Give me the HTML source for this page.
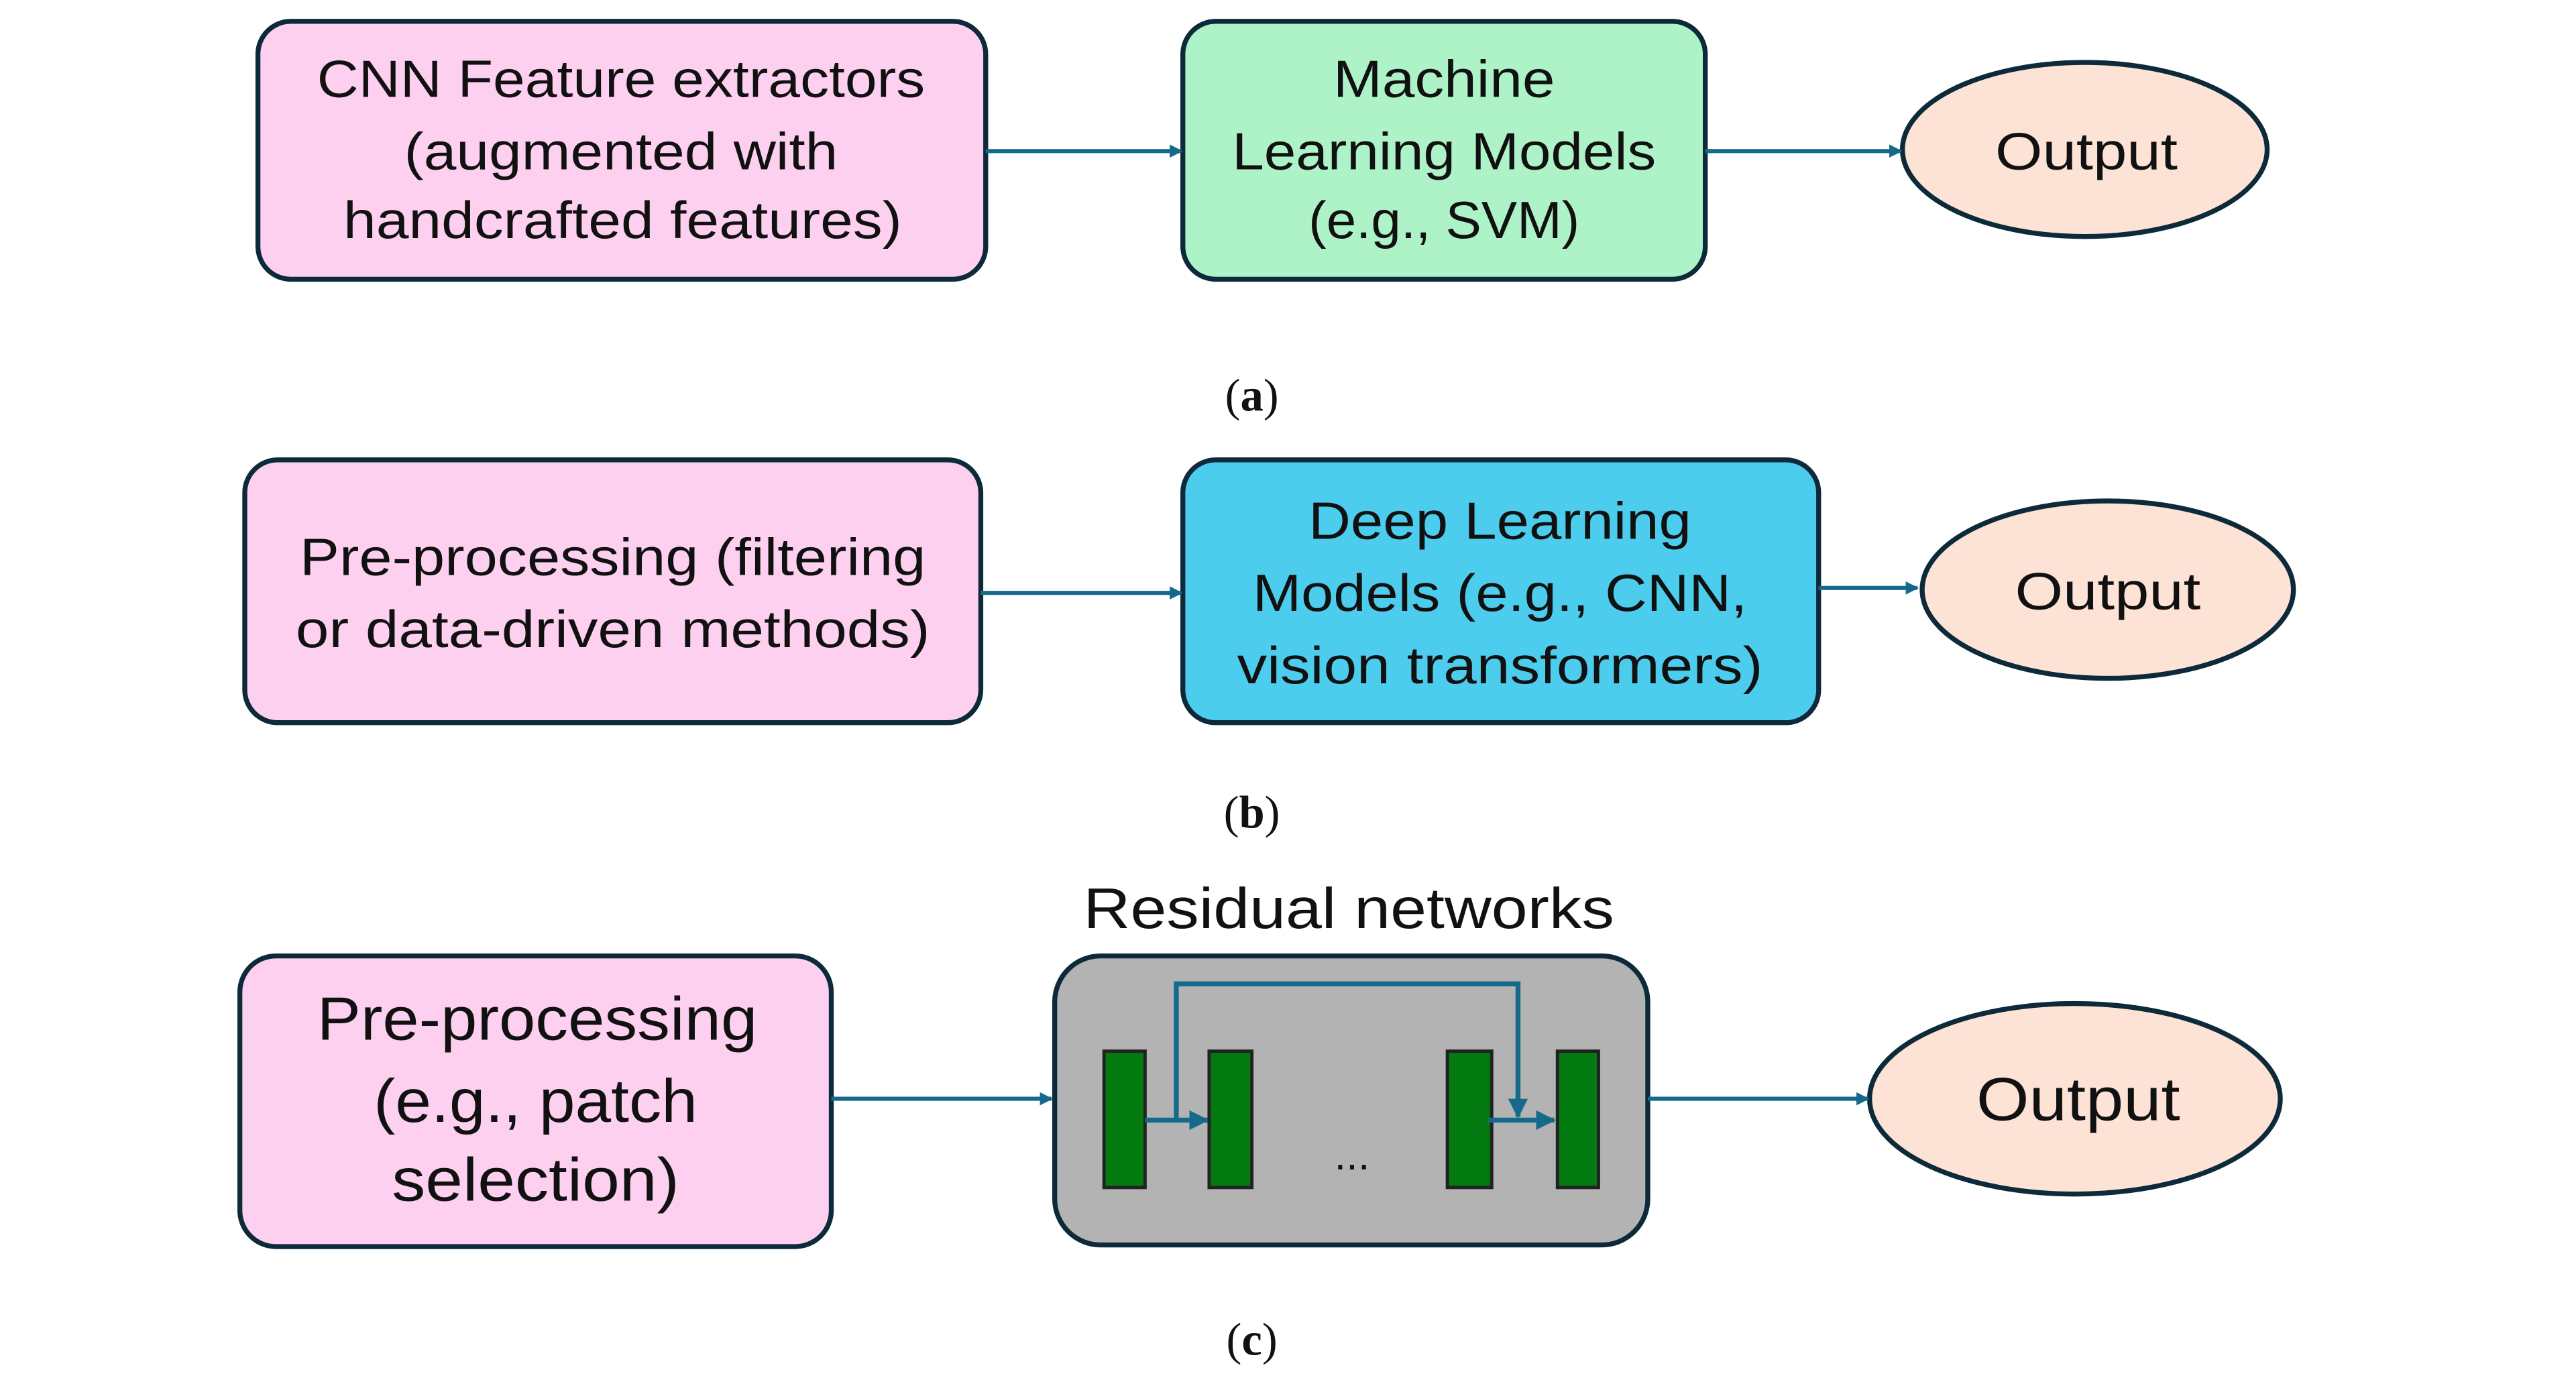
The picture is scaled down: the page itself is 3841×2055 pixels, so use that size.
<!DOCTYPE html>
<html><head><meta charset="utf-8"><style>
html,body{margin:0;padding:0;background:#fff}
svg{display:block}
.t{font-family:"Liberation Sans",sans-serif;fill:#111;text-anchor:middle}
.c{font-family:"Liberation Serif",serif;fill:#111;text-anchor:middle;font-size:28px}
</style></head><body>
<svg width="3841" height="2055" viewBox="0 0 1568 839" preserveAspectRatio="none" xmlns="http://www.w3.org/2000/svg">
<defs>
<marker id="a" markerWidth="8" markerHeight="8" refX="7" refY="4" orient="auto" markerUnits="userSpaceOnUse"><path d="M0,0 L8,4 L0,8 Z" fill="#156a8c"/></marker>
<marker id="b" markerWidth="12" markerHeight="12" refX="11" refY="6" orient="auto" markerUnits="userSpaceOnUse"><path d="M0,0 L12,6 L0,12 Z" fill="#156a8c"/></marker>
</defs>
<g stroke="#0d2a3a" stroke-width="3">
<rect x="157" y="13" width="443" height="157" rx="20" fill="#fdd0f0"/>
<rect x="720" y="13" width="318" height="157" rx="20" fill="#aef2c8"/>
<ellipse cx="1269" cy="91" rx="111" ry="53" fill="#fde3d5"/>
<rect x="149" y="280" width="448" height="160" rx="20" fill="#fdd0f0"/>
<rect x="720" y="280" width="387" height="160" rx="20" fill="#4dcdee"/>
<ellipse cx="1283" cy="359" rx="113" ry="54" fill="#fde3d5"/>
<rect x="146" y="582" width="360" height="177" rx="22" fill="#fdd0f0"/>
<rect x="642" y="582" width="361" height="176" rx="28" fill="#b3b3b3"/>
<ellipse cx="1263" cy="669" rx="125" ry="58" fill="#fde3d5"/>
</g>
<g stroke="#156a8c" stroke-width="2.5" fill="none">
<line x1="600" y1="92" x2="719" y2="92" marker-end="url(#a)"/>
<line x1="1038" y1="92" x2="1157" y2="92" marker-end="url(#a)"/>
<line x1="597" y1="361" x2="719" y2="361" marker-end="url(#a)"/>
<line x1="1107" y1="358" x2="1167" y2="358" marker-end="url(#a)"/>
<line x1="506" y1="669" x2="640" y2="669" marker-end="url(#a)"/>
<line x1="1003" y1="669" x2="1137" y2="669" marker-end="url(#a)"/>
</g>
<g fill="#037a10" stroke="#222" stroke-width="2">
<rect x="672" y="640" width="25" height="83"/>
<rect x="736" y="640" width="26" height="83"/>
<rect x="881" y="640" width="27" height="83"/>
<rect x="948" y="640" width="25" height="83"/>
</g>
<g stroke="#156a8c" stroke-width="3" fill="none">
<polyline points="716,682 716,599 924,599 924,680" marker-end="url(#b)"/>
<line x1="697" y1="682" x2="735" y2="682" marker-end="url(#b)"/>
<line x1="905" y1="682" x2="946" y2="682" marker-end="url(#b)"/>
</g>
<text class="t" x="823" y="712" font-size="26">...</text>
<g class="t" font-size="32">
<text x="378" y="59" textLength="370" lengthAdjust="spacingAndGlyphs">CNN Feature extractors</text>
<text x="378" y="103" textLength="264" lengthAdjust="spacingAndGlyphs">(augmented with</text>
<text x="379" y="145" textLength="340" lengthAdjust="spacingAndGlyphs">handcrafted features)</text>
<text x="879" y="59" textLength="135" lengthAdjust="spacingAndGlyphs">Machine</text>
<text x="879" y="103" textLength="258" lengthAdjust="spacingAndGlyphs">Learning Models</text>
<text x="879" y="145" textLength="165" lengthAdjust="spacingAndGlyphs">(e.g., SVM)</text>
<text x="1270" y="103" textLength="111" lengthAdjust="spacingAndGlyphs">Output</text>
<text x="373" y="350" textLength="381" lengthAdjust="spacingAndGlyphs">Pre-processing (filtering</text>
<text x="373" y="394" textLength="386" lengthAdjust="spacingAndGlyphs">or data-driven methods)</text>
<text x="913" y="328" textLength="233" lengthAdjust="spacingAndGlyphs">Deep Learning</text>
<text x="913" y="372" textLength="301" lengthAdjust="spacingAndGlyphs">Models (e.g., CNN,</text>
<text x="913" y="416" textLength="320" lengthAdjust="spacingAndGlyphs">vision transformers)</text>
<text x="1283" y="371" textLength="113" lengthAdjust="spacingAndGlyphs">Output</text>
</g>
<g class="t" font-size="37">
<text x="327" y="633" textLength="268" lengthAdjust="spacingAndGlyphs">Pre-processing</text>
<text x="326" y="683" textLength="197" lengthAdjust="spacingAndGlyphs">(e.g., patch</text>
<text x="326" y="731" textLength="175" lengthAdjust="spacingAndGlyphs">selection)</text>
<text x="1265" y="682" textLength="124" lengthAdjust="spacingAndGlyphs">Output</text>
<text x="821" y="565" font-size="35" textLength="323" lengthAdjust="spacingAndGlyphs">Residual networks</text>
</g>
<text class="c" x="762" y="250">(<tspan font-weight="bold">a</tspan>)</text>
<text class="c" x="762" y="504">(<tspan font-weight="bold">b</tspan>)</text>
<text class="c" x="762" y="825">(<tspan font-weight="bold">c</tspan>)</text>
</svg>
</body></html>
